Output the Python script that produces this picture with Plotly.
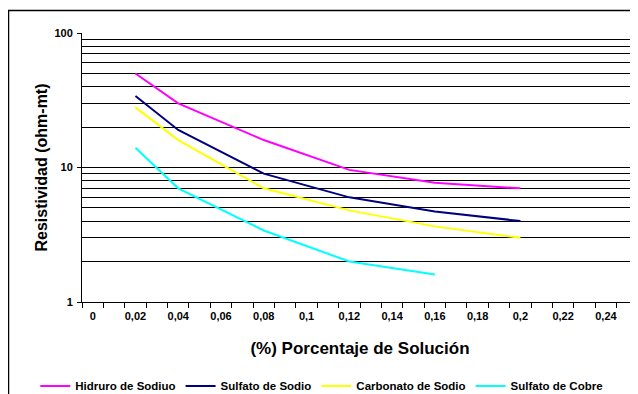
import plotly.graph_objects as go

# Data
x_vals = [0.02, 0.04, 0.08, 0.12, 0.16, 0.2]
x_cobre = [0.02, 0.04, 0.08, 0.12, 0.16]
hidruro = [50, 30, 16, 9.6, 7.7, 7.0]
sulfato_sodio = [34, 19, 9.0, 6.0, 4.7, 4.0]
carbonato = [28, 16, 7.0, 4.8, 3.65, 3.0]
sulfato_cobre = [14, 7.0, 3.4, 2.0, 1.6]

series_names = ["Hidruro de Sodiuo", "Sulfato de Sodio", "Carbonato de Sodio", "Sulfato de Cobre"]
series_colors = ["#FF00FF", "#000080", "#FFFF00", "#00FFFF"]

x_tickvals = [0, 0.02, 0.04, 0.06, 0.08, 0.1, 0.12, 0.14, 0.16, 0.18, 0.2, 0.22, 0.24]
x_ticktext = ["0", "0,02", "0,04", "0,06", "0,08", "0,1", "0,12", "0,14", "0,16", "0,18", "0,2", "0,22", "0,24"]
y_tickvals = [1, 10, 100]
y_ticktext = ["1", "10", "100"]
y_minor_vals = [2, 3, 4, 5, 6, 7, 8, 9, 20, 30, 40, 50, 60, 70, 80, 90]

FONT = "Liberation Sans, Arial, sans-serif"

fig = go.Figure()
for name, color, xs, ys in zip(series_names, series_colors,
                               [x_vals, x_vals, x_vals, x_cobre],
                               [hidruro, sulfato_sodio, carbonato, sulfato_cobre]):
    fig.add_trace(go.Scatter(x=xs, y=ys, mode="lines", name=name,
                             line=dict(color=color, width=2)))

# page body has an 8px margin, so the figure is 8px smaller than the window
fig.update_layout(
    width=630, height=386,
    margin=dict(l=74, r=0, t=25, b=92, autoexpand=False),
    paper_bgcolor="white", plot_bgcolor="white",
    font=dict(family=FONT, color="black"),
    showlegend=True,
    legend=dict(orientation="h", x=-0.084, y=-0.312, xanchor="left", yanchor="middle",
                font=dict(size=11.5, family=FONT, weight="bold"),
                itemwidth=30, tracegroupgap=0, bgcolor="rgba(0,0,0,0)"),
    xaxis=dict(
        range=[-0.005, 0.255], automargin=False,
        tickvals=x_tickvals, ticktext=x_ticktext, ticks="",
        ticklabelstandoff=4,
        tickfont=dict(size=11, family=FONT, weight="bold"),
        showgrid=False, zeroline=False,
        showline=True, linecolor="black", linewidth=1,
        minor=dict(tick0=-0.005, dtick=0.01, ticks="outside", ticklen=5,
                   tickcolor="black", showgrid=False),
        title=dict(text="(%) Porcentaje de Solución",
                   font=dict(size=17, family=FONT, weight="bold"), standoff=20),
    ),
    yaxis=dict(
        type="log", range=[0, 2], automargin=False,
        tickvals=y_tickvals, ticktext=y_ticktext,
        ticks="outside", ticklen=4, tickcolor="black",
        ticklabelstandoff=2,
        tickfont=dict(size=11, family=FONT, weight="bold"),
        showgrid=True, gridcolor="black", gridwidth=1,
        zeroline=False, showline=True, linecolor="black", linewidth=1,
        minor=dict(tickvals=y_minor_vals, showgrid=True, gridcolor="black",
                   gridwidth=1, ticks=""),
        title=dict(text="Resistividad (ohm-mt)",
                   font=dict(size=16, family=FONT, weight="bold"), standoff=2),
    ),
    shapes=[dict(type="rect", xref="paper", yref="paper",
                 x0=-0.1322, x1=1.2, y0=-0.6, y1=1.084,
                 line=dict(color="black", width=1.5), fillcolor="rgba(0,0,0,0)",
                 layer="above")],
)

fig.write_html("out.html")
